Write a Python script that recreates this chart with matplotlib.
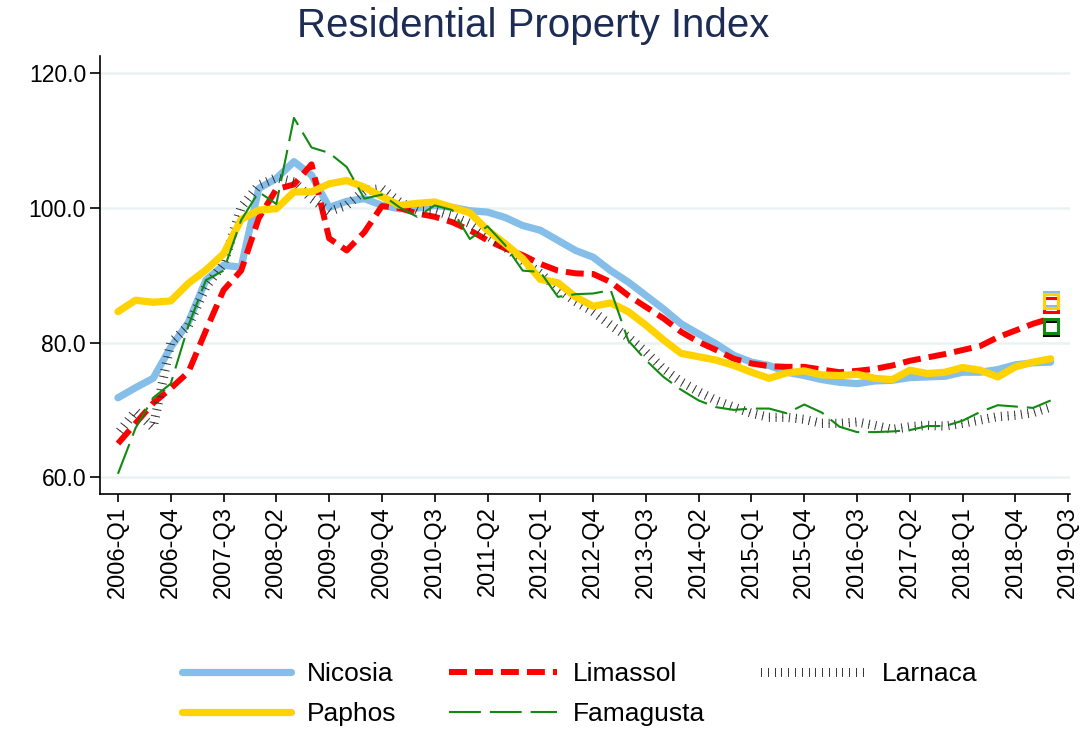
import numpy as np
import matplotlib
matplotlib.use("Agg")
import matplotlib.pyplot as plt
from matplotlib import patheffects as pe

plt.rcParams['font.family'] = ['Liberation Sans', 'DejaVu Sans']

# ---------------- data ----------------
tick_labels = ["2006-Q1", "2006-Q4", "2007-Q3", "2008-Q2", "2009-Q1", "2009-Q4",
               "2010-Q3", "2011-Q2", "2012-Q1", "2012-Q4", "2013-Q3", "2014-Q2",
               "2015-Q1", "2015-Q4", "2016-Q3", "2017-Q2", "2018-Q1", "2018-Q4",
               "2019-Q3"]

nicosia = [71.8, 73.3, 74.7, 79.3, 83.0, 89.3, 91.5, 91.2, 102.9, 104.4,
           106.9, 104.9, 100.1, 101.0, 101.4, 100.4, 99.9, 100.0, 100.4, 100.1,
           99.6, 99.4, 98.6, 97.4, 96.7, 95.2, 93.7, 92.7, 90.7, 89.0,
           87.0, 85.0, 82.8, 81.3, 79.8, 78.1, 77.1, 76.6, 75.6, 75.1,
           74.5, 74.1, 73.9, 74.3, 74.4, 74.8, 74.9, 75.0, 75.6, 75.6,
           76.0, 76.7, 77.0, 77.1]

limassol = [65.0, 68.0, 71.0, 73.2, 75.6, 81.8, 87.8, 90.7, 98.5, 102.8,
            103.5, 106.5, 95.5, 93.7, 96.4, 100.3, 100.0, 99.2, 98.7, 97.9,
            96.7, 95.2, 94.0, 93.0, 91.7, 90.7, 90.3, 90.2, 89.0, 87.0,
            85.3, 83.6, 81.6, 80.1, 78.9, 77.6, 76.9, 76.5, 76.4, 76.4,
            76.0, 75.6, 75.8, 76.1, 76.6, 77.3, 77.8, 78.3, 78.9, 79.5,
            80.8, 81.8, 82.8, 83.6]

larnaca = [66.5, 69.8, 67.4, 80.0, 82.5, 88.3, 91.7, 100.1, 103.4, 104.5,
           103.9, 101.4, 99.5, 100.4, 102.6, 102.9, 100.9, 99.7, 99.6, 98.8,
           97.7, 95.9, 94.2, 92.2, 90.3, 88.0, 86.1, 84.6, 82.6, 80.8,
           78.6, 76.1, 74.2, 72.7, 71.4, 70.4, 69.5, 68.9, 68.9, 68.6,
           68.0, 68.0, 68.2, 67.7, 67.1, 67.5, 67.7, 67.6, 68.0, 68.5,
           69.0, 69.2, 69.6, 70.4]

paphos = [84.6, 86.3, 86.0, 86.2, 88.8, 90.8, 93.2, 98.3, 99.7, 99.9,
          102.4, 102.4, 103.6, 104.1, 103.1, 101.7, 100.4, 100.7, 100.9, 100.1,
          99.3, 96.7, 94.7, 92.5, 89.4, 88.9, 86.8, 85.4, 85.9, 84.6,
          82.6, 80.4, 78.4, 77.9, 77.4, 76.6, 75.6, 74.7, 75.5, 75.8,
          75.2, 75.1, 75.3, 74.7, 74.5, 75.9, 75.4, 75.6, 76.3, 75.9,
          74.9, 76.4, 77.1, 77.6]

famagusta = [60.5, 67.3, 71.8, 73.9, 82.5, 89.3, 90.7, 98.2, 102.4, 100.6,
             113.4, 109.0, 108.2, 106.1, 101.4, 102.0, 100.1, 98.7, 100.4, 99.7,
             95.4, 97.3, 94.5, 90.7, 90.5, 86.8, 87.2, 87.3, 87.8, 80.3,
             77.4, 74.9, 73.0, 71.4, 70.4, 70.0, 70.2, 70.2, 69.5, 70.8,
             69.6, 67.5, 66.7, 66.7, 66.8, 67.0, 67.6, 67.6, 68.4, 69.7,
             70.7, 70.5, 70.3, 71.4]

# hollow square markers at the last quarter
end_markers = {"Nicosia": 86.5, "Limassol": 85.6, "Larnaca": 82.1,
               "Paphos": 86.2, "Famagusta": 82.4}

# ---------------- figure ----------------
W, H = 1083, 729
fig = plt.figure(figsize=(W / 100, H / 100), dpi=100)
ax = fig.add_axes([100 / W, 1 - 494 / H, 970 / W, (494 - 56) / H])

x = np.arange(len(nicosia))
last = x[-1]

c_nic = '#85BEE8'
c_lim = '#FF0000'
c_lar = '#333333'
c_pap = '#FFD200'
c_fam = '#118A11'

h_nic, = ax.plot(x, nicosia, color=c_nic, lw=5.2, solid_capstyle='round',
                 solid_joinstyle='round', label='Nicosia')
h_lim, = ax.plot(x, limassol, color=c_lim, lw=4.3, dashes=(3.0, 1.35),
                 dash_capstyle='butt', label='Limassol')
ticks_fx = [pe.TickedStroke(spacing=4.8, angle=90, length=0.62),
            pe.TickedStroke(spacing=4.8, angle=-90, length=0.62)]
h_lar, = ax.plot(x, larnaca, color=c_lar, lw=0.7, path_effects=ticks_fx,
                 label='Larnaca')
h_pap, = ax.plot(x, paphos, color=c_pap, lw=5.2, solid_capstyle='round',
                 solid_joinstyle='round', label='Paphos')
h_fam, = ax.plot(x, famagusta, color=c_fam, lw=1.5, dashes=(15.3, 4.3),
                 label='Famagusta')

for name, col in [("Nicosia", c_nic), ("Limassol", c_lim), ("Larnaca", '#000000'),
                  ("Paphos", c_pap), ("Famagusta", c_fam)]:
    ax.plot([last], [end_markers[name]], marker='s', ms=10, mfc='none',
            mec=col, mew=2.2, ls='none')

ax.set_xlim(-1.02, 54.1)
ax.set_ylim(57.5, 122.6)

ax.set_xticks(np.arange(0, 3 * len(tick_labels), 3))
ax.set_xticklabels(tick_labels, rotation=90, fontsize=17)
ax.set_yticks([60, 80, 100, 120])
ax.set_yticklabels([f"{v:.1f}" for v in [60, 80, 100, 120]], fontsize=16.5)

ax.tick_params(axis='x', length=6, width=1.2, pad=3)
ax.tick_params(axis='y', length=7, width=1.2, pad=3)

ax.yaxis.grid(True, color='#EAF2F3', lw=1.8)
ax.xaxis.grid(False)
ax.set_axisbelow(True)
for s in ['top', 'right']:
    ax.spines[s].set_visible(False)
for s in ['left', 'bottom']:
    ax.spines[s].set_linewidth(1.2)

fig.text(0.492, 1 - 26 / H, "Residential Property Index", fontsize=29,
         color='#1C2C54', ha='center', va='center')

fig.legend([h_nic, h_pap, h_lim, h_fam, h_lar],
           ['Nicosia', 'Paphos', 'Limassol', 'Famagusta', 'Larnaca'],
           ncol=3, loc='center', bbox_to_anchor=(580 / W, 1 - 694 / H),
           frameon=False, fontsize=19, handlelength=4.1, handletextpad=0.6,
           columnspacing=2.0, labelspacing=0.6)

fig.savefig('out.png', dpi=100)
